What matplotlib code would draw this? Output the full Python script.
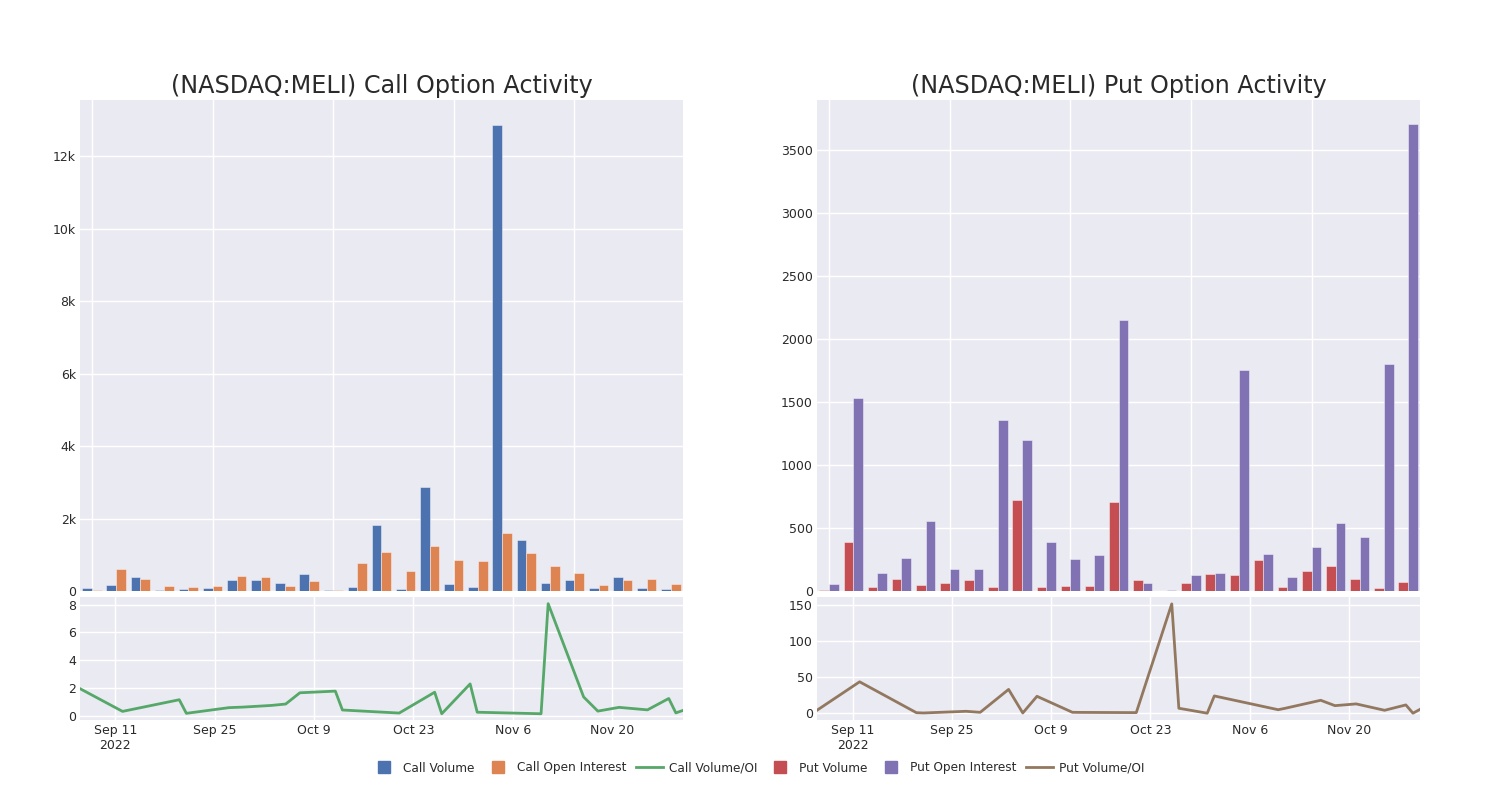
import numpy as np
import pandas as pd
import matplotlib
matplotlib.use("Agg")
import matplotlib.pyplot as plt
from matplotlib.lines import Line2D

# trading days shown in the chart
dates = pd.to_datetime([
    "2022-09-06", "2022-09-12", "2022-09-20", "2022-09-21", "2022-09-27",
    "2022-09-29", "2022-10-03", "2022-10-05", "2022-10-07", "2022-10-12",
    "2022-10-13", "2022-10-21", "2022-10-26", "2022-10-27", "2022-10-31",
    "2022-11-01", "2022-11-10", "2022-11-11", "2022-11-16", "2022-11-18",
    "2022-11-21", "2022-11-25", "2022-11-28", "2022-11-29", "2022-11-30",
])

call_volume = [80, 160, 380, 30, 60, 70, 310, 310, 220, 480, 20, 110, 1810, 60,
               2870, 190, 110, 12870, 1410, 230, 300, 70, 390, 70, 60]
call_oi = [40, 600, 330, 130, 110, 140, 410, 380, 130, 270, 30, 760, 1080, 540,
           1240, 860, 840, 1590, 1060, 700, 510, 170, 310, 340, 190]
call_ratio = [1.95, 0.31, 1.15, 0.17, 0.58, 0.62, 0.74, 0.84, 1.65, 1.77, 0.41,
              0.19, 1.69, 0.14, 2.29, 0.25, 0.14, 8.07, 1.35, 0.33, 0.6, 0.42,
              1.24, 0.2, 0.38]

put_volume = [11, 386, 32, 96, 48, 61, 85, 32, 723, 29, 37, 37, 705, 88, 3, 61,
              133, 125, 247, 35, 160, 199, 93, 21, 69]
put_oi = [56, 1530, 144, 266, 556, 173, 173, 1357, 1198, 386, 258, 285, 2153, 64,
          11, 125, 141, 1755, 290, 109, 348, 540, 428, 1801, 3708]
put_ratio = [4.3, 43.5, 0.9, 0.5, 2.8, 1.4, 33, 0.5, 23.5, 1.4, 1.3, 1.0, 151, 7,
             0.2, 24, 5, 7, 18, 10.6, 13, 4.2, 11.6, 0.2, 5.5]

tick_dates = pd.to_datetime(["2022-09-11", "2022-09-25", "2022-10-09",
                             "2022-10-23", "2022-11-06", "2022-11-20"])
tick_labels = ["Sep 11\n2022", "Sep 25", "Oct 9", "Oct 23", "Nov 6", "Nov 20"]

blue, orange, green = "#4C72B0", "#DD8452", "#55A868"
red, purple, brown = "#C44E52", "#8172B3", "#937860"
bg = "#EAEAF2"
txt = "#2a2a2a"

plt.rcParams["font.family"] = ["DejaVu Sans"]
plt.rcParams["font.size"] = 9

fig = plt.figure(figsize=(15, 8), dpi=100)


def style(ax):
    ax.set_facecolor(bg)
    for s in ax.spines.values():
        s.set_visible(False)
    ax.grid(True, color="white", linewidth=1.0)
    ax.set_axisbelow(True)
    ax.tick_params(length=0, colors=txt, labelsize=9, pad=3)


def panel(x0, title, vol, oi, ratio, c1, c2, c3, yt, ytl, ylim, lt, lylim):
    top = fig.add_axes([x0, 0.26125, 0.402, 0.61375])
    bot = fig.add_axes([x0, 0.1, 0.402, 0.15375])
    style(top)
    style(bot)

    idx = np.arange(len(vol))
    top.bar(idx - 0.2, vol, width=0.4, color=c1, edgecolor=(1, 1, 1, 0.5), linewidth=0.6)
    top.bar(idx + 0.2, oi, width=0.4, color=c2, edgecolor=(1, 1, 1, 0.5), linewidth=0.6)
    top.set_xlim(-0.5, len(vol) - 0.5)
    top.set_xticks(range(0, len(vol), 5))
    top.tick_params(labelbottom=False)
    top.set_ylim(*ylim)
    top.set_yticks(yt)
    top.set_yticklabels(ytl)
    top.set_title(title, fontsize=17.2, color=txt, pad=5)

    bot.plot(dates, ratio, color=c3, linewidth=2)
    bot.set_xlim(dates[0], dates[-1])
    bot.set_xticks(tick_dates)
    bot.set_xticklabels(tick_labels)
    bot.set_ylim(*lylim)
    bot.set_yticks(lt)


panel(0.0533, "(NASDAQ:MELI) Call Option Activity", call_volume, call_oi, call_ratio,
      blue, orange, green, [0, 2000, 4000, 6000, 8000, 10000, 12000],
      ["0", "2k", "4k", "6k", "8k", "10k", "12k"], (0, 13560),
      [0, 2, 4, 6, 8], (-0.31, 8.55))
panel(0.5447, "(NASDAQ:MELI) Put Option Activity", put_volume, put_oi, put_ratio,
      red, purple, brown, [0, 500, 1000, 1500, 2000, 2500, 3000, 3500],
      ["0", "500", "1000", "1500", "2000", "2500", "3000", "3500"], (0, 3900),
      [0, 50, 100, 150], (-9.2, 160.5))

handles = [
    Line2D([], [], marker="s", linestyle="", color=blue, markersize=9),
    Line2D([], [], marker="s", linestyle="", color=orange, markersize=9),
    Line2D([], [], color=green, linewidth=2),
    Line2D([], [], marker="s", linestyle="", color=red, markersize=9),
    Line2D([], [], marker="s", linestyle="", color=purple, markersize=9),
    Line2D([], [], color=brown, linewidth=2),
]
labels = ["Call Volume", "Call Open Interest", "Call Volume/OI",
          "Put Volume", "Put Open Interest", "Put Volume/OI"]
leg = fig.legend(handles, labels, loc="center", bbox_to_anchor=(0.505, 0.04), ncol=6,
                 frameon=False, fontsize=8.7, handlelength=2.2, columnspacing=0.8,
                 handletextpad=0.5)
for t in leg.get_texts():
    t.set_color(txt)

fig.savefig("out.png", dpi=100)
